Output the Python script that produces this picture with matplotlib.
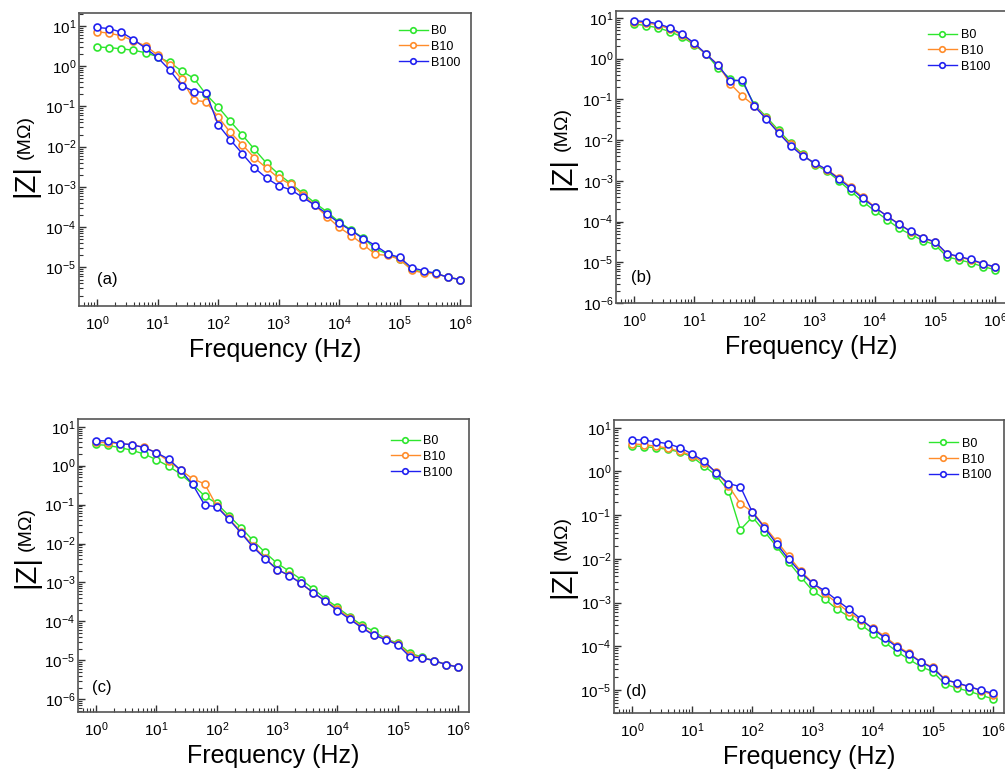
import numpy as np
import matplotlib
matplotlib.use("Agg")
import matplotlib.pyplot as plt
from matplotlib.ticker import LogLocator, NullFormatter

plt.rcParams['font.family'] = ['Liberation Sans', 'DejaVu Sans']
plt.rcParams['mathtext.fontset'] = 'custom'
plt.rcParams['mathtext.rm'] = 'Liberation Sans'
plt.rcParams['mathtext.it'] = 'Liberation Sans:italic'

# частоты, 5 точек на декаду
freq = [1, 1.585, 2.512, 3.981, 6.31, 10, 15.85, 25.12, 39.81, 63.1,
        100, 158.5, 251.2, 398.1, 631, 1000, 1585, 2512, 3981, 6310,
        1e4, 1.585e4, 2.512e4, 3.981e4, 6.31e4, 1e5, 1.585e5, 2.512e5,
        3.981e5, 6.31e5, 1e6]

series = ['B0', 'B10', 'B100']

# (a)
a_B0 = [3.0, 2.9, 2.7, 2.5, 2.16, 1.72, 1.24, 0.755, 0.50, 0.20,
        0.0975, 0.0428, 0.0196, 0.0086, 0.0039, 0.00208, 0.00122, 7.0e-4, 4.0e-4, 2.4e-4,
        1.35e-4, 8.5e-5, 5.4e-5, 2.9e-5, 2.15e-5, 1.6e-5, 8.9e-6, 7.6e-6,
        7.1e-6, 5.7e-6, 5.0e-6]
a_B10 = [7.2, 6.6, 5.7, 4.3, 3.2, 1.9, 1.07, 0.47, 0.143, 0.13,
         0.055, 0.0228, 0.0112, 0.0053, 0.00295, 0.00166, 0.00117, 6.4e-4, 3.5e-4, 1.83e-4,
         9.9e-5, 6.2e-5, 3.7e-5, 2.1e-5, 2.0e-5, 1.6e-5, 8.6e-6, 7.2e-6,
         7.0e-6, 5.7e-6, 5.0e-6]
a_B100 = [9.2, 8.6, 7.0, 4.6, 2.8, 1.65, 0.80, 0.33, 0.235, 0.22,
          0.0353, 0.0149, 0.00668, 0.00299, 0.00166, 0.00107, 8.5e-4, 5.5e-4, 3.5e-4, 2.14e-4,
          1.27e-4, 8.2e-5, 5.2e-5, 3.5e-5, 2.19e-5, 1.77e-5, 9.8e-6, 8.3e-6,
          7.1e-6, 5.7e-6, 5.0e-6]

# (b)
b_B0 = [7.1, 6.5, 5.7, 4.6, 3.4, 2.2, 1.29, 0.58, 0.32, 0.27,
        0.074, 0.037, 0.0174, 0.0085, 0.0046, 0.0025, 0.00175, 0.00101, 5.6e-4, 3.1e-4,
        1.83e-4, 1.12e-4, 6.8e-5, 4.8e-5, 3.4e-5, 2.7e-5, 1.36e-5, 1.15e-5,
        9.7e-6, 7.8e-6, 6.6e-6]
b_B10 = [8.0, 7.5, 6.8, 5.3, 3.8, 2.3, 1.27, 0.70, 0.24, 0.12,
         0.07, 0.034, 0.0158, 0.0078, 0.0043, 0.00265, 0.00188, 0.0012, 7.0e-4, 4.0e-4,
         2.3e-4, 1.35e-4, 8.9e-5, 5.6e-5, 3.9e-5, 3.1e-5, 1.6e-5, 1.35e-5,
         1.13e-5, 9.0e-6, 7.5e-6]
b_B100 = [8.6, 8.1, 7.2, 5.7, 4.0, 2.4, 1.29, 0.68, 0.28, 0.30,
          0.068, 0.0325, 0.015, 0.0073, 0.0041, 0.00276, 0.0019, 0.00112, 6.6e-4, 3.7e-4,
          2.22e-4, 1.38e-4, 8.6e-5, 5.7e-5, 4.0e-5, 3.2e-5, 1.64e-5, 1.39e-5,
          1.17e-5, 9.3e-6, 7.7e-6]

# (c)
c_B0 = [3.5, 3.3, 2.9, 2.47, 1.98, 1.42, 0.97, 0.61, 0.33, 0.166,
        0.107, 0.052, 0.0257, 0.012, 0.0059, 0.0031, 0.00195, 0.00119, 6.8e-4, 3.8e-4,
        2.3e-4, 1.33e-4, 8.1e-5, 5.6e-5, 3.5e-5, 2.8e-5, 1.52e-5, 1.22e-5,
        9.8e-6, 7.8e-6, 6.8e-6]
c_B10 = [3.95, 3.9, 3.7, 3.45, 2.94, 2.15, 1.31, 0.77, 0.46, 0.34,
         0.091, 0.044, 0.020, 0.0087, 0.0043, 0.00215, 0.00154, 9.4e-4, 5.4e-4, 3.4e-4,
         2.06e-4, 1.25e-4, 7.2e-5, 4.6e-5, 3.5e-5, 2.6e-5, 1.4e-5, 1.17e-5,
         9.8e-6, 7.8e-6, 6.8e-6]
c_B100 = [4.4, 4.3, 3.7, 3.45, 2.9, 2.15, 1.48, 0.77, 0.33, 0.097,
          0.088, 0.042, 0.0189, 0.0081, 0.0041, 0.00215, 0.0015, 9.4e-4, 5.4e-4, 3.3e-4,
          1.9e-4, 1.15e-4, 6.9e-5, 4.4e-5, 3.4e-5, 2.5e-5, 1.23e-5, 1.15e-5,
          9.8e-6, 7.8e-6, 6.7e-6]

# (d)
d_B0 = [3.9, 3.7, 3.5, 3.2, 2.77, 2.16, 1.32, 0.81, 0.365, 0.0466,
        0.091, 0.042, 0.0193, 0.0085, 0.0039, 0.00186, 0.0012, 7.1e-4, 4.8e-4, 3.1e-4,
        1.95e-4, 1.23e-4, 7.5e-5, 5.0e-5, 3.4e-5, 2.6e-5, 1.35e-5, 1.09e-5,
        9.3e-6, 7.5e-6, 6.2e-6]
d_B10 = [4.3, 4.1, 3.8, 3.4, 2.9, 2.3, 1.57, 0.96, 0.475, 0.184,
         0.12, 0.055, 0.0255, 0.0116, 0.0053, 0.00284, 0.00161, 9.9e-4, 6.0e-4, 3.9e-4,
         2.6e-4, 1.67e-4, 1.02e-4, 6.9e-5, 4.4e-5, 3.3e-5, 1.75e-5, 1.39e-5,
         1.19e-5, 9.5e-6, 7.7e-6]
d_B100 = [5.4, 5.2, 4.8, 4.3, 3.5, 2.5, 1.72, 0.93, 0.53, 0.45,
          0.116, 0.052, 0.0222, 0.0099, 0.0049, 0.00274, 0.00186, 0.00114, 7.1e-4, 4.2e-4,
          2.5e-4, 1.55e-4, 9.5e-5, 6.6e-5, 4.3e-5, 3.15e-5, 1.7e-5, 1.45e-5,
          1.19e-5, 9.8e-6, 8.3e-6]

panels = [
    ('(a)', [a_B0, a_B10, a_B100]),
    ('(b)', [b_B0, b_B10, b_B100]),
    ('(c)', [c_B0, c_B10, c_B100]),
    ('(d)', [d_B0, d_B10, d_B100]),
]

colors = ['#2ee62e', '#ff8c2a', '#2020f0']

# положение осей в пикселях: left, top, right, bottom
W, H = 1005, 772
boxes = [(79, 13, 471, 306), (616, 11, 1006, 303), (78, 419, 469, 712), (614, 420, 1004, 713)]
ylims = [(1.1e-6, 21), (1e-6, 14.8), (4.7e-7, 15.8), (2.95e-6, 15.1)]
xlim = (10 ** -0.3, 10 ** 6.18)
legend_xy = [(0.816, 0.959), (0.80, 0.938), (0.80, 0.945), (0.808, 0.939)]
tag_xy = [(0.071, 0.089), (0.064, 0.089), (0.061, 0.085), (0.056, 0.075)]
# подпись оси Y: x центра, y центра "|Z|", y центра "(MΩ)"
ylab = [(-0.138, 0.43, 0.578), (-0.138, 0.445, 0.597), (-0.133, 0.478, 0.626), (-0.133, 0.45, 0.598)]

fig = plt.figure(figsize=(W / 100, H / 100), dpi=100)

for i, (tag, data) in enumerate(panels):
    l, t, r, b = boxes[i]
    ax = fig.add_axes([l / W, 1 - b / H, (r - l) / W, (b - t) / H])
    for name, vals, c in zip(series, data, colors):
        ax.plot(freq, vals, '-o', color=c, lw=1.0, ms=5, mew=1.2,
                mfc='white', mec=c, label=name)
    ax.set_xscale('log')
    ax.set_yscale('log')
    ax.set_xlim(*xlim)
    ax.set_ylim(*ylims[i])
    ax.xaxis.set_major_locator(LogLocator(base=10, numticks=10))
    ax.xaxis.set_minor_locator(LogLocator(base=10, subs=np.arange(2, 10), numticks=20))
    ax.yaxis.set_major_locator(LogLocator(base=10, numticks=10))
    ax.yaxis.set_minor_locator(LogLocator(base=10, subs=np.arange(2, 10), numticks=20))
    ax.xaxis.set_minor_formatter(NullFormatter())
    ax.yaxis.set_minor_formatter(NullFormatter())
    ax.tick_params(which='both', direction='in', top=False, right=False,
                   labelsize=11, color='#333333')
    ax.tick_params(which='major', length=5, width=1)
    ax.tick_params(which='minor', length=3, width=0.8)
    ax.tick_params(axis='x', pad=6)
    ax.tick_params(axis='y', pad=2)
    for s in ax.spines.values():
        s.set_color('#555555')
        s.set_linewidth(1.2)

    ax.set_xlabel('Frequency (Hz)', fontsize=18, labelpad=4)
    xc, yz, ym = ylab[i]
    ax.text(xc, yz, '|Z|', transform=ax.transAxes, rotation=90, fontsize=21,
            ha='center', va='center')
    ax.text(xc, ym, '(M\u03a9)', transform=ax.transAxes, rotation=90, fontsize=14,
            ha='center', va='center')
    ax.text(tag_xy[i][0], tag_xy[i][1], tag, transform=ax.transAxes, fontsize=12,
            ha='center', va='center')

    ax.legend(loc='upper left', bbox_to_anchor=legend_xy[i], frameon=False,
              fontsize=9, borderpad=0, borderaxespad=0, handlelength=2.3,
              handletextpad=0.3, labelspacing=0.3, markerscale=0.8)

fig.savefig('out.png', dpi=100)
